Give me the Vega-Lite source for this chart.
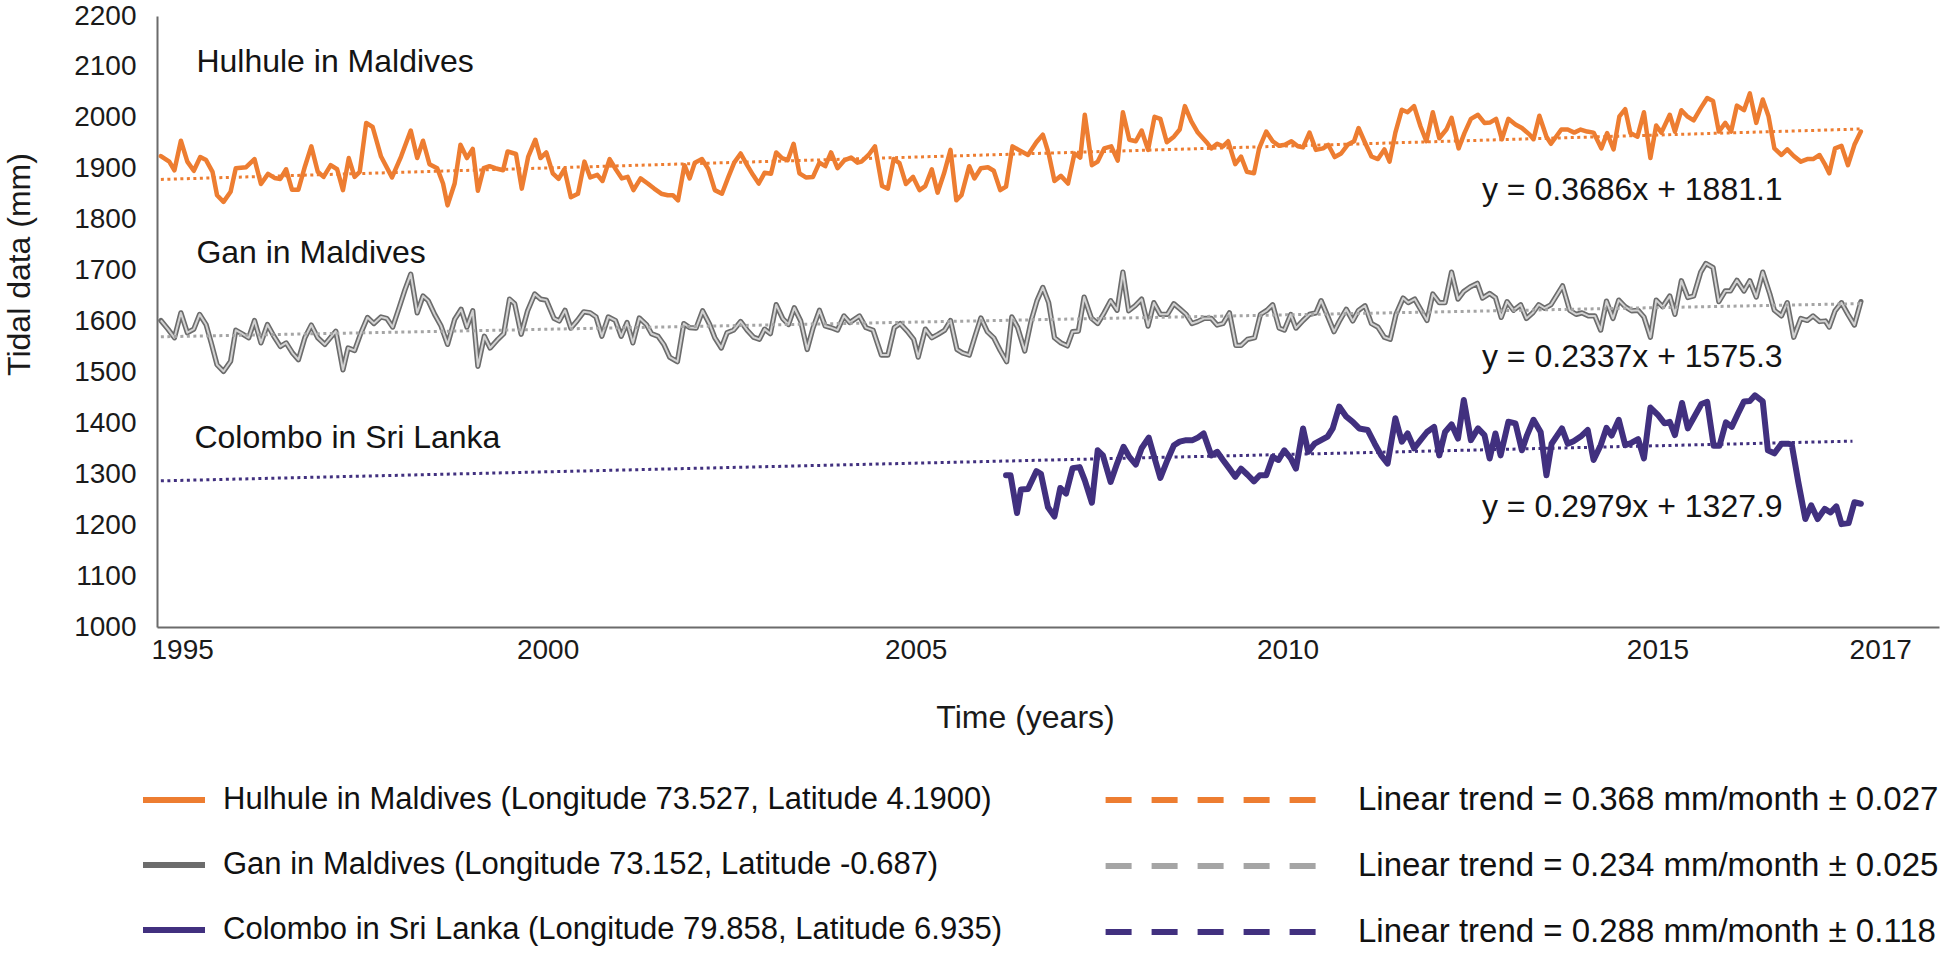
{
"$schema": "https://vega.github.io/schema/vega-lite/v6.json",
"autosize": {"type": "none"},
"padding": {"left": 157, "top": 16, "right": 7, "bottom": 330},
"width": 1782,
"height": 611,
"background": "white",
"config": {"font": "Liberation Sans", "view": {"stroke": null}},
"datasets": {
"names": [
{"s": "H", "name": "Hulhule in Maldives (Longitude 73.527, Latitude 4.1900)"},
{"s": "G", "name": "Gan in Maldives (Longitude 73.152, Latitude -0.687)"},
{"s": "C", "name": "Colombo in Sri Lanka (Longitude 79.858, Latitude 6.935)"}
],
"trend": [
{"k": "Linear trend = 0.368 mm/month ± 0.027", "t": 0.6, "v": 1879},
{"k": "Linear trend = 0.368 mm/month ± 0.027", "t": 263.7, "v": 1978},
{"k": "Linear trend = 0.234 mm/month ± 0.025", "t": 0.6, "v": 1570},
{"k": "Linear trend = 0.234 mm/month ± 0.025", "t": 263.7, "v": 1635},
{"k": "Linear trend = 0.288 mm/month ± 0.118", "t": 0.6, "v": 1287},
{"k": "Linear trend = 0.288 mm/month ± 0.118", "t": 262.6, "v": 1365}
],
"stations": [
{"label": "Hulhule in Maldives", "t": 6.1, "v": 2110},
{"label": "Gan in Maldives", "t": 6.1, "v": 1735},
{"label": "Colombo in Sri Lanka", "t": 5.8, "v": 1372}
],
"equations": [
{"label": "y = 0.3686x + 1881.1", "t": 228.5, "v": 1859},
{"label": "y = 0.2337x + 1575.3", "t": 228.5, "v": 1531},
{"label": "y = 0.2979x + 1327.9", "t": 228.5, "v": 1235}
],
"series": [
{"s":"H","t":0.6,"v":1925},{"s":"H","t":1.9,"v":1914},{"s":"H","t":2.7,"v":1897},{"s":"H","t":3.7,"v":1955},{"s":"H","t":4.7,"v":1914},{"s":"H","t":5.7,"v":1896},{"s":"H","t":6.7,"v":1923},{"s":"H","t":7.6,"v":1917},{"s":"H","t":8.6,"v":1894},{"s":"H","t":9.3,"v":1848},{"s":"H","t":10.3,"v":1835},{"s":"H","t":11.4,"v":1855},{"s":"H","t":12.2,"v":1901},{"s":"H","t":13.8,"v":1903},{"s":"H","t":15.1,"v":1919},{"s":"H","t":16.1,"v":1870},{"s":"H","t":17.2,"v":1890},{"s":"H","t":18.2,"v":1882},{"s":"H","t":19.1,"v":1880},{"s":"H","t":20.0,"v":1899},{"s":"H","t":20.9,"v":1859},{"s":"H","t":21.9,"v":1859},{"s":"H","t":22.9,"v":1904},{"s":"H","t":23.9,"v":1944},{"s":"H","t":24.9,"v":1894},{"s":"H","t":25.8,"v":1884},{"s":"H","t":26.9,"v":1907},{"s":"H","t":27.9,"v":1899},{"s":"H","t":28.8,"v":1858},{"s":"H","t":29.7,"v":1921},{"s":"H","t":30.6,"v":1884},{"s":"H","t":31.4,"v":1894},{"s":"H","t":32.4,"v":1990},{"s":"H","t":33.4,"v":1982},{"s":"H","t":34.7,"v":1924},{"s":"H","t":36.4,"v":1883},{"s":"H","t":37.8,"v":1924},{"s":"H","t":39.3,"v":1975},{"s":"H","t":40.3,"v":1921},{"s":"H","t":41.2,"v":1955},{"s":"H","t":42.2,"v":1909},{"s":"H","t":43.4,"v":1901},{"s":"H","t":44.3,"v":1871},{"s":"H","t":45.0,"v":1828},{"s":"H","t":46.1,"v":1871},{"s":"H","t":47.0,"v":1947},{"s":"H","t":48.0,"v":1921},{"s":"H","t":48.9,"v":1939},{"s":"H","t":49.7,"v":1857},{"s":"H","t":50.6,"v":1901},{"s":"H","t":51.5,"v":1905},{"s":"H","t":52.4,"v":1901},{"s":"H","t":53.6,"v":1897},
{"s":"H","t":54.3,"v":1934},{"s":"H","t":55.6,"v":1929},{"s":"H","t":56.5,"v":1861},{"s":"H","t":57.5,"v":1924},{"s":"H","t":58.6,"v":1957},{"s":"H","t":59.4,"v":1921},{"s":"H","t":60.3,"v":1932},{"s":"H","t":61.3,"v":1891},{"s":"H","t":62.2,"v":1880},{"s":"H","t":63.1,"v":1899},{"s":"H","t":64.1,"v":1844},{"s":"H","t":65.2,"v":1851},{"s":"H","t":66.2,"v":1914},{"s":"H","t":67.1,"v":1883},{"s":"H","t":68.2,"v":1888},{"s":"H","t":69.0,"v":1876},{"s":"H","t":70.1,"v":1919},{"s":"H","t":71.1,"v":1898},{"s":"H","t":72.0,"v":1881},{"s":"H","t":72.9,"v":1884},{"s":"H","t":73.8,"v":1858},{"s":"H","t":74.9,"v":1881},{"s":"H","t":76.0,"v":1871},{"s":"H","t":77.0,"v":1861},{"s":"H","t":78.1,"v":1851},{"s":"H","t":79.1,"v":1848},{"s":"H","t":79.9,"v":1848},{"s":"H","t":80.7,"v":1838},{"s":"H","t":81.7,"v":1907},{"s":"H","t":82.5,"v":1881},{"s":"H","t":83.3,"v":1912},{"s":"H","t":84.4,"v":1919},{"s":"H","t":85.4,"v":1899},{"s":"H","t":86.4,"v":1858},{"s":"H","t":87.5,"v":1851},{"s":"H","t":88.5,"v":1884},{"s":"H","t":89.4,"v":1912},{"s":"H","t":90.4,"v":1930},{"s":"H","t":91.4,"v":1907},{"s":"H","t":92.3,"v":1888},{"s":"H","t":93.2,"v":1871},{"s":"H","t":94.1,"v":1892},{"s":"H","t":95.1,"v":1890},{"s":"H","t":95.9,"v":1932},{"s":"H","t":96.8,"v":1921},{"s":"H","t":97.7,"v":1917},{"s":"H","t":98.6,"v":1949},{"s":"H","t":99.5,"v":1891},{"s":"H","t":100.5,"v":1883},{"s":"H","t":101.6,"v":1884},{"s":"H","t":102.6,"v":1912},{"s":"H","t":103.5,"v":1905},{"s":"H","t":104.4,"v":1932},{"s":"H","t":105.4,"v":1901},{"s":"H","t":106.5,"v":1917},{"s":"H","t":107.5,"v":1922},{"s":"H","t":108.5,"v":1912},
{"s":"H","t":109.1,"v":1914},{"s":"H","t":110.2,"v":1927},{"s":"H","t":111.2,"v":1944},{"s":"H","t":112.3,"v":1866},{"s":"H","t":113.2,"v":1861},{"s":"H","t":114.1,"v":1919},{"s":"H","t":115.0,"v":1911},{"s":"H","t":116.0,"v":1870},{"s":"H","t":117.1,"v":1884},{"s":"H","t":118.1,"v":1858},{"s":"H","t":119.0,"v":1866},{"s":"H","t":120.0,"v":1899},{"s":"H","t":120.9,"v":1853},{"s":"H","t":121.9,"v":1891},{"s":"H","t":122.9,"v":1937},{"s":"H","t":123.8,"v":1838},{"s":"H","t":124.6,"v":1848},{"s":"H","t":125.8,"v":1905},{"s":"H","t":126.6,"v":1881},{"s":"H","t":127.6,"v":1901},{"s":"H","t":128.7,"v":1903},{"s":"H","t":129.6,"v":1896},{"s":"H","t":130.6,"v":1858},{"s":"H","t":131.5,"v":1865},{"s":"H","t":132.5,"v":1944},{"s":"H","t":133.6,"v":1936},{"s":"H","t":134.9,"v":1927},{"s":"H","t":136.2,"v":1952},{"s":"H","t":137.2,"v":1967},{"s":"H","t":138.1,"v":1930},{"s":"H","t":139.0,"v":1876},{"s":"H","t":140.0,"v":1886},{"s":"H","t":141.1,"v":1871},{"s":"H","t":142.1,"v":1930},{"s":"H","t":143.0,"v":1922},{"s":"H","t":143.7,"v":2006},{"s":"H","t":144.8,"v":1907},{"s":"H","t":145.7,"v":1914},{"s":"H","t":146.7,"v":1940},{"s":"H","t":147.8,"v":1944},{"s":"H","t":148.8,"v":1916},{"s":"H","t":149.6,"v":2011},{"s":"H","t":150.6,"v":1957},{"s":"H","t":151.6,"v":1954},{"s":"H","t":152.5,"v":1975},{"s":"H","t":153.5,"v":1937},{"s":"H","t":154.5,"v":2002},{"s":"H","t":155.4,"v":1998},{"s":"H","t":156.4,"v":1952},{"s":"H","t":157.5,"v":1963},{"s":"H","t":158.4,"v":1977},{"s":"H","t":159.2,"v":2023},{"s":"H","t":160.2,"v":1993},{"s":"H","t":161.2,"v":1971},{"s":"H","t":162.7,"v":1950},
{"s":"H","t":163.3,"v":1940},{"s":"H","t":164.2,"v":1949},{"s":"H","t":165.1,"v":1944},{"s":"H","t":165.9,"v":1954},{"s":"H","t":167.0,"v":1909},{"s":"H","t":167.9,"v":1924},{"s":"H","t":168.8,"v":1894},{"s":"H","t":169.9,"v":1891},{"s":"H","t":170.7,"v":1940},{"s":"H","t":171.8,"v":1973},{"s":"H","t":172.8,"v":1954},{"s":"H","t":173.8,"v":1945},{"s":"H","t":174.7,"v":1947},{"s":"H","t":175.7,"v":1954},{"s":"H","t":176.7,"v":1944},{"s":"H","t":177.5,"v":1942},{"s":"H","t":178.5,"v":1971},{"s":"H","t":179.5,"v":1937},{"s":"H","t":180.6,"v":1940},{"s":"H","t":181.4,"v":1947},{"s":"H","t":182.4,"v":1923},{"s":"H","t":183.4,"v":1930},{"s":"H","t":184.4,"v":1947},{"s":"H","t":185.4,"v":1954},{"s":"H","t":186.1,"v":1980},{"s":"H","t":187.0,"v":1954},{"s":"H","t":188.1,"v":1924},{"s":"H","t":189.1,"v":1919},{"s":"H","t":190.1,"v":1938},{"s":"H","t":190.9,"v":1914},{"s":"H","t":191.8,"v":1971},{"s":"H","t":192.8,"v":2016},{"s":"H","t":193.7,"v":2011},{"s":"H","t":194.7,"v":2023},{"s":"H","t":195.7,"v":1983},{"s":"H","t":196.6,"v":1954},{"s":"H","t":197.6,"v":2011},{"s":"H","t":198.6,"v":1960},{"s":"H","t":199.7,"v":1977},{"s":"H","t":200.5,"v":2000},{"s":"H","t":201.6,"v":1940},{"s":"H","t":202.5,"v":1970},{"s":"H","t":203.5,"v":1998},{"s":"H","t":204.6,"v":2006},{"s":"H","t":205.6,"v":1990},{"s":"H","t":206.5,"v":1991},{"s":"H","t":207.4,"v":1998},{"s":"H","t":208.3,"v":1958},{"s":"H","t":209.3,"v":1998},{"s":"H","t":210.4,"v":1987},{"s":"H","t":211.4,"v":1980},{"s":"H","t":212.6,"v":1967},{"s":"H","t":213.2,"v":1958},{"s":"H","t":214.1,"v":2004},{"s":"H","t":215.2,"v":1963},{"s":"H","t":215.9,"v":1949},
{"s":"H","t":217.5,"v":1977},{"s":"H","t":218.5,"v":1977},{"s":"H","t":219.5,"v":1971},{"s":"H","t":220.5,"v":1977},{"s":"H","t":221.5,"v":1973},{"s":"H","t":222.5,"v":1971},{"s":"H","t":223.7,"v":1940},{"s":"H","t":224.6,"v":1970},{"s":"H","t":225.6,"v":1938},{"s":"H","t":226.5,"v":2003},{"s":"H","t":227.4,"v":2017},{"s":"H","t":228.2,"v":1970},{"s":"H","t":229.3,"v":1963},{"s":"H","t":230.3,"v":2011},{"s":"H","t":231.3,"v":1921},{"s":"H","t":232.2,"v":1985},{"s":"H","t":233.0,"v":1971},{"s":"H","t":234.3,"v":2006},{"s":"H","t":235.1,"v":1973},{"s":"H","t":236.1,"v":2015},{"s":"H","t":237.0,"v":2003},{"s":"H","t":238.0,"v":1995},{"s":"H","t":239.1,"v":2019},{"s":"H","t":240.1,"v":2039},{"s":"H","t":241.0,"v":2033},{"s":"H","t":241.9,"v":1973},{"s":"H","t":242.9,"v":1990},{"s":"H","t":243.8,"v":1973},{"s":"H","t":244.7,"v":2024},{"s":"H","t":245.8,"v":2015},{"s":"H","t":246.7,"v":2048},{"s":"H","t":247.7,"v":1990},{"s":"H","t":248.7,"v":2036},{"s":"H","t":249.6,"v":2003},{"s":"H","t":250.5,"v":1940},{"s":"H","t":251.6,"v":1927},{"s":"H","t":252.5,"v":1938},{"s":"H","t":253.5,"v":1925},{"s":"H","t":254.6,"v":1914},{"s":"H","t":255.6,"v":1919},{"s":"H","t":256.5,"v":1919},{"s":"H","t":257.5,"v":1927},{"s":"H","t":258.4,"v":1907},{"s":"H","t":259.0,"v":1891},{"s":"H","t":259.9,"v":1940},{"s":"H","t":260.9,"v":1945},{"s":"H","t":261.9,"v":1907},{"s":"H","t":262.9,"v":1947},{"s":"H","t":263.9,"v":1973},
{"s":"G","t":0.6,"v":1602},{"s":"G","t":1.7,"v":1585},{"s":"G","t":2.7,"v":1568},{"s":"G","t":3.7,"v":1617},{"s":"G","t":4.7,"v":1578},{"s":"G","t":5.7,"v":1585},{"s":"G","t":6.6,"v":1614},{"s":"G","t":7.6,"v":1594},{"s":"G","t":8.4,"v":1558},{"s":"G","t":9.3,"v":1515},{"s":"G","t":10.3,"v":1502},{"s":"G","t":11.4,"v":1522},{"s":"G","t":12.2,"v":1583},{"s":"G","t":13.3,"v":1575},{"s":"G","t":14.2,"v":1568},{"s":"G","t":15.1,"v":1602},{"s":"G","t":16.1,"v":1558},{"s":"G","t":17.1,"v":1594},{"s":"G","t":18.1,"v":1571},{"s":"G","t":19.1,"v":1551},{"s":"G","t":20.0,"v":1558},{"s":"G","t":21.0,"v":1538},{"s":"G","t":21.9,"v":1525},{"s":"G","t":22.9,"v":1568},{"s":"G","t":23.9,"v":1593},{"s":"G","t":24.9,"v":1568},{"s":"G","t":26.0,"v":1555},{"s":"G","t":26.9,"v":1569},{"s":"G","t":27.7,"v":1581},{"s":"G","t":28.8,"v":1505},{"s":"G","t":29.6,"v":1548},{"s":"G","t":30.6,"v":1543},{"s":"G","t":31.6,"v":1578},{"s":"G","t":32.6,"v":1608},{"s":"G","t":33.6,"v":1596},{"s":"G","t":34.7,"v":1609},{"s":"G","t":35.6,"v":1606},{"s":"G","t":36.5,"v":1589},{"s":"G","t":37.5,"v":1627},{"s":"G","t":38.4,"v":1662},{"s":"G","t":39.3,"v":1693},{"s":"G","t":40.3,"v":1617},{"s":"G","t":41.2,"v":1650},{"s":"G","t":42.0,"v":1641},{"s":"G","t":43.0,"v":1614},{"s":"G","t":44.0,"v":1591},{"s":"G","t":45.0,"v":1555},{"s":"G","t":46.1,"v":1604},{"s":"G","t":47.1,"v":1624},{"s":"G","t":48.0,"v":1589},{"s":"G","t":48.9,"v":1621},{"s":"G","t":49.7,"v":1512},{"s":"G","t":50.7,"v":1571},{"s":"G","t":51.6,"v":1548},{"s":"G","t":52.8,"v":1565},{"s":"G","t":53.7,"v":1576},
{"s":"G","t":54.6,"v":1644},{"s":"G","t":55.4,"v":1635},{"s":"G","t":56.4,"v":1575},{"s":"G","t":57.4,"v":1621},{"s":"G","t":58.5,"v":1654},{"s":"G","t":59.4,"v":1644},{"s":"G","t":60.3,"v":1642},{"s":"G","t":61.5,"v":1606},{"s":"G","t":62.3,"v":1601},{"s":"G","t":63.2,"v":1622},{"s":"G","t":64.1,"v":1587},{"s":"G","t":65.1,"v":1602},{"s":"G","t":66.1,"v":1619},{"s":"G","t":67.1,"v":1617},{"s":"G","t":68.0,"v":1609},{"s":"G","t":68.9,"v":1571},{"s":"G","t":69.9,"v":1609},{"s":"G","t":71.0,"v":1602},{"s":"G","t":71.9,"v":1571},{"s":"G","t":72.8,"v":1598},{"s":"G","t":73.7,"v":1558},{"s":"G","t":74.7,"v":1607},{"s":"G","t":75.8,"v":1594},{"s":"G","t":76.6,"v":1576},{"s":"G","t":77.6,"v":1571},{"s":"G","t":78.5,"v":1555},{"s":"G","t":79.4,"v":1530},{"s":"G","t":80.6,"v":1521},{"s":"G","t":81.6,"v":1596},{"s":"G","t":82.5,"v":1588},{"s":"G","t":83.5,"v":1587},{"s":"G","t":84.5,"v":1621},{"s":"G","t":85.6,"v":1594},{"s":"G","t":86.4,"v":1568},{"s":"G","t":87.4,"v":1548},{"s":"G","t":88.3,"v":1578},{"s":"G","t":89.3,"v":1583},{"s":"G","t":90.4,"v":1600},{"s":"G","t":91.4,"v":1583},{"s":"G","t":92.4,"v":1569},{"s":"G","t":93.3,"v":1565},{"s":"G","t":94.1,"v":1585},{"s":"G","t":95.0,"v":1576},{"s":"G","t":95.9,"v":1633},{"s":"G","t":96.9,"v":1606},{"s":"G","t":97.8,"v":1594},{"s":"G","t":98.7,"v":1627},{"s":"G","t":99.7,"v":1601},{"s":"G","t":100.7,"v":1545},{"s":"G","t":101.6,"v":1587},{"s":"G","t":102.6,"v":1622},{"s":"G","t":103.5,"v":1591},{"s":"G","t":104.4,"v":1588},{"s":"G","t":105.4,"v":1583},{"s":"G","t":106.4,"v":1611},{"s":"G","t":107.3,"v":1598},
{"s":"G","t":108.8,"v":1611},{"s":"G","t":109.8,"v":1588},{"s":"G","t":110.9,"v":1583},{"s":"G","t":112.2,"v":1534},{"s":"G","t":113.2,"v":1534},{"s":"G","t":114.2,"v":1588},{"s":"G","t":115.1,"v":1596},{"s":"G","t":116.2,"v":1581},{"s":"G","t":117.2,"v":1565},{"s":"G","t":117.9,"v":1530},{"s":"G","t":119.0,"v":1585},{"s":"G","t":120.0,"v":1568},{"s":"G","t":121.0,"v":1575},{"s":"G","t":122.0,"v":1583},{"s":"G","t":122.9,"v":1602},{"s":"G","t":123.9,"v":1545},{"s":"G","t":124.8,"v":1538},{"s":"G","t":125.8,"v":1534},{"s":"G","t":126.7,"v":1571},{"s":"G","t":127.6,"v":1607},{"s":"G","t":128.6,"v":1580},{"s":"G","t":129.6,"v":1568},{"s":"G","t":130.6,"v":1543},{"s":"G","t":131.6,"v":1521},{"s":"G","t":132.4,"v":1609},{"s":"G","t":133.3,"v":1588},{"s":"G","t":134.4,"v":1542},{"s":"G","t":135.4,"v":1602},{"s":"G","t":136.3,"v":1641},{"s":"G","t":137.2,"v":1667},{"s":"G","t":138.1,"v":1637},{"s":"G","t":139.0,"v":1568},{"s":"G","t":140.0,"v":1558},{"s":"G","t":141.0,"v":1552},{"s":"G","t":141.8,"v":1580},{"s":"G","t":142.7,"v":1581},{"s":"G","t":143.6,"v":1648},{"s":"G","t":144.7,"v":1607},{"s":"G","t":145.7,"v":1596},{"s":"G","t":146.7,"v":1617},{"s":"G","t":147.7,"v":1641},{"s":"G","t":148.7,"v":1622},{"s":"G","t":149.6,"v":1697},{"s":"G","t":150.5,"v":1621},{"s":"G","t":151.5,"v":1631},{"s":"G","t":152.5,"v":1644},{"s":"G","t":153.5,"v":1591},{"s":"G","t":154.4,"v":1637},{"s":"G","t":155.4,"v":1614},{"s":"G","t":156.5,"v":1614},{"s":"G","t":157.5,"v":1635},{"s":"G","t":158.5,"v":1624},{"s":"G","t":159.4,"v":1614},{"s":"G","t":160.3,"v":1596},{"s":"G","t":161.2,"v":1600},{"s":"G","t":162.2,"v":1606},
{"s":"G","t":163.3,"v":1606},{"s":"G","t":164.2,"v":1593},{"s":"G","t":165.1,"v":1596},{"s":"G","t":166.1,"v":1617},{"s":"G","t":167.1,"v":1553},{"s":"G","t":167.9,"v":1553},{"s":"G","t":168.9,"v":1565},{"s":"G","t":170.0,"v":1568},{"s":"G","t":170.9,"v":1614},{"s":"G","t":171.9,"v":1622},{"s":"G","t":172.8,"v":1633},{"s":"G","t":173.8,"v":1587},{"s":"G","t":174.6,"v":1583},{"s":"G","t":175.6,"v":1614},{"s":"G","t":176.4,"v":1587},{"s":"G","t":177.5,"v":1602},{"s":"G","t":178.5,"v":1614},{"s":"G","t":179.5,"v":1617},{"s":"G","t":180.3,"v":1641},{"s":"G","t":181.2,"v":1614},{"s":"G","t":182.3,"v":1580},{"s":"G","t":183.1,"v":1600},{"s":"G","t":184.2,"v":1624},{"s":"G","t":185.2,"v":1601},{"s":"G","t":186.1,"v":1622},{"s":"G","t":187.1,"v":1631},{"s":"G","t":188.1,"v":1596},{"s":"G","t":189.1,"v":1589},{"s":"G","t":190.1,"v":1569},{"s":"G","t":191.0,"v":1565},{"s":"G","t":191.9,"v":1614},{"s":"G","t":193.0,"v":1646},{"s":"G","t":193.8,"v":1637},{"s":"G","t":194.8,"v":1644},{"s":"G","t":195.7,"v":1624},{"s":"G","t":196.7,"v":1602},{"s":"G","t":197.6,"v":1654},{"s":"G","t":198.6,"v":1637},{"s":"G","t":199.5,"v":1637},{"s":"G","t":200.5,"v":1697},{"s":"G","t":201.5,"v":1644},{"s":"G","t":202.4,"v":1659},{"s":"G","t":203.4,"v":1668},{"s":"G","t":204.5,"v":1675},{"s":"G","t":205.3,"v":1646},{"s":"G","t":206.4,"v":1655},{"s":"G","t":207.3,"v":1647},{"s":"G","t":208.2,"v":1608},{"s":"G","t":209.1,"v":1639},{"s":"G","t":210.1,"v":1622},{"s":"G","t":211.2,"v":1633},{"s":"G","t":212.1,"v":1606},{"s":"G","t":213.1,"v":1617},{"s":"G","t":214.0,"v":1633},{"s":"G","t":214.9,"v":1626},{"s":"G","t":215.9,"v":1633},
{"s":"G","t":217.7,"v":1670},{"s":"G","t":218.8,"v":1622},{"s":"G","t":219.8,"v":1614},{"s":"G","t":220.7,"v":1617},{"s":"G","t":221.7,"v":1611},{"s":"G","t":222.7,"v":1611},{"s":"G","t":223.6,"v":1583},{"s":"G","t":224.5,"v":1640},{"s":"G","t":225.5,"v":1606},{"s":"G","t":226.4,"v":1642},{"s":"G","t":227.4,"v":1629},{"s":"G","t":228.4,"v":1621},{"s":"G","t":229.4,"v":1622},{"s":"G","t":230.3,"v":1609},{"s":"G","t":231.3,"v":1569},{"s":"G","t":232.2,"v":1642},{"s":"G","t":233.2,"v":1629},{"s":"G","t":234.3,"v":1650},{"s":"G","t":235.1,"v":1614},{"s":"G","t":236.1,"v":1680},{"s":"G","t":237.1,"v":1647},{"s":"G","t":238.0,"v":1650},{"s":"G","t":239.1,"v":1697},{"s":"G","t":239.9,"v":1714},{"s":"G","t":241.0,"v":1706},{"s":"G","t":241.9,"v":1639},{"s":"G","t":242.9,"v":1660},{"s":"G","t":243.7,"v":1660},{"s":"G","t":244.7,"v":1681},{"s":"G","t":245.8,"v":1660},{"s":"G","t":246.7,"v":1680},{"s":"G","t":247.7,"v":1648},{"s":"G","t":248.7,"v":1697},{"s":"G","t":249.8,"v":1654},{"s":"G","t":250.5,"v":1622},{"s":"G","t":251.6,"v":1611},{"s":"G","t":252.5,"v":1637},{"s":"G","t":253.5,"v":1569},{"s":"G","t":254.6,"v":1606},{"s":"G","t":255.6,"v":1602},{"s":"G","t":256.5,"v":1611},{"s":"G","t":257.5,"v":1600},{"s":"G","t":258.4,"v":1601},{"s":"G","t":259.0,"v":1589},{"s":"G","t":259.9,"v":1621},{"s":"G","t":260.9,"v":1637},{"s":"G","t":261.9,"v":1614},{"s":"G","t":262.9,"v":1593},{"s":"G","t":263.9,"v":1639},
{"s":"C","t":131.5,"v":1298},{"s":"C","t":132.2,"v":1298},{"s":"C","t":133.2,"v":1224},{"s":"C","t":133.8,"v":1270},{"s":"C","t":134.9,"v":1271},{"s":"C","t":136.2,"v":1306},{"s":"C","t":136.9,"v":1301},{"s":"C","t":138.0,"v":1235},{"s":"C","t":139.0,"v":1217},{"s":"C","t":139.9,"v":1273},{"s":"C","t":140.8,"v":1262},{"s":"C","t":141.8,"v":1312},{"s":"C","t":142.9,"v":1314},{"s":"C","t":143.7,"v":1288},{"s":"C","t":144.8,"v":1244},{"s":"C","t":145.7,"v":1347},{"s":"C","t":146.5,"v":1337},{"s":"C","t":147.7,"v":1285},{"s":"C","t":148.7,"v":1321},{"s":"C","t":149.7,"v":1354},{"s":"C","t":150.6,"v":1334},{"s":"C","t":151.6,"v":1319},{"s":"C","t":152.5,"v":1351},{"s":"C","t":153.6,"v":1372},{"s":"C","t":154.5,"v":1332},{"s":"C","t":155.4,"v":1293},{"s":"C","t":156.5,"v":1328},{"s":"C","t":157.5,"v":1357},{"s":"C","t":158.4,"v":1364},{"s":"C","t":159.4,"v":1367},{"s":"C","t":160.4,"v":1367},{"s":"C","t":161.2,"v":1372},{"s":"C","t":162.1,"v":1380},
{"s":"C","t":163.3,"v":1337},{"s":"C","t":164.2,"v":1344},{"s":"C","t":165.1,"v":1328},{"s":"C","t":166.1,"v":1311},{"s":"C","t":167.0,"v":1295},{"s":"C","t":167.9,"v":1311},{"s":"C","t":168.9,"v":1299},{"s":"C","t":169.9,"v":1286},{"s":"C","t":170.8,"v":1298},{"s":"C","t":171.8,"v":1298},{"s":"C","t":172.8,"v":1334},{"s":"C","t":173.7,"v":1328},{"s":"C","t":174.6,"v":1347},{"s":"C","t":175.6,"v":1331},{"s":"C","t":176.4,"v":1311},{"s":"C","t":177.5,"v":1390},{"s":"C","t":178.3,"v":1344},{"s":"C","t":179.3,"v":1360},{"s":"C","t":180.3,"v":1367},{"s":"C","t":181.3,"v":1374},{"s":"C","t":182.1,"v":1390},{"s":"C","t":183.1,"v":1433},{"s":"C","t":184.2,"v":1413},{"s":"C","t":185.2,"v":1403},{"s":"C","t":186.2,"v":1390},{"s":"C","t":187.5,"v":1387},{"s":"C","t":188.6,"v":1360},{"s":"C","t":189.6,"v":1337},{"s":"C","t":190.6,"v":1321},{"s":"C","t":191.8,"v":1410},{"s":"C","t":192.8,"v":1364},{"s":"C","t":193.7,"v":1380},{"s":"C","t":194.7,"v":1351},{"s":"C","t":195.7,"v":1367},{"s":"C","t":196.7,"v":1383},{"s":"C","t":197.8,"v":1393},{"s":"C","t":198.6,"v":1337},{"s":"C","t":199.5,"v":1383},{"s":"C","t":200.5,"v":1398},{"s":"C","t":201.5,"v":1370},{"s":"C","t":202.4,"v":1446},{"s":"C","t":203.5,"v":1367},{"s":"C","t":204.6,"v":1390},{"s":"C","t":205.6,"v":1377},{"s":"C","t":206.4,"v":1331},{"s":"C","t":207.3,"v":1380},{"s":"C","t":208.1,"v":1337},{"s":"C","t":209.3,"v":1403},{"s":"C","t":210.4,"v":1400},{"s":"C","t":211.4,"v":1347},{"s":"C","t":212.2,"v":1377},{"s":"C","t":213.2,"v":1407},{"s":"C","t":214.3,"v":1383},{"s":"C","t":215.2,"v":1298},{"s":"C","t":216.0,"v":1360},
{"s":"C","t":217.6,"v":1390},{"s":"C","t":218.5,"v":1360},{"s":"C","t":219.4,"v":1365},{"s":"C","t":220.5,"v":1374},{"s":"C","t":221.6,"v":1387},{"s":"C","t":222.5,"v":1328},{"s":"C","t":223.6,"v":1357},{"s":"C","t":224.5,"v":1391},{"s":"C","t":225.3,"v":1376},{"s":"C","t":226.4,"v":1407},{"s":"C","t":227.4,"v":1357},{"s":"C","t":228.4,"v":1362},{"s":"C","t":229.4,"v":1369},{"s":"C","t":230.3,"v":1331},{"s":"C","t":231.3,"v":1431},{"s":"C","t":232.5,"v":1416},{"s":"C","t":233.5,"v":1400},{"s":"C","t":234.3,"v":1403},{"s":"C","t":235.1,"v":1377},{"s":"C","t":236.2,"v":1440},{"s":"C","t":237.1,"v":1390},{"s":"C","t":238.1,"v":1413},{"s":"C","t":239.2,"v":1438},{"s":"C","t":240.1,"v":1442},{"s":"C","t":241.1,"v":1356},{"s":"C","t":242.0,"v":1356},{"s":"C","t":243.0,"v":1402},{"s":"C","t":243.9,"v":1393},{"s":"C","t":244.9,"v":1420},{"s":"C","t":245.8,"v":1443},{"s":"C","t":246.7,"v":1444},{"s":"C","t":247.5,"v":1455},{"s":"C","t":248.7,"v":1443},{"s":"C","t":249.5,"v":1347},{"s":"C","t":250.5,"v":1341},{"s":"C","t":251.6,"v":1360},{"s":"C","t":252.6,"v":1360},{"s":"C","t":253.2,"v":1358},{"s":"C","t":254.2,"v":1285},{"s":"C","t":255.3,"v":1212},{"s":"C","t":256.2,"v":1239},{"s":"C","t":257.2,"v":1212},{"s":"C","t":258.3,"v":1232},{"s":"C","t":259.2,"v":1225},{"s":"C","t":260.1,"v":1237},{"s":"C","t":260.9,"v":1202},{"s":"C","t":262.0,"v":1204},{"s":"C","t":262.9,"v":1245},{"s":"C","t":263.9,"v":1242}
]
},
"encoding": {
"x": {"field": "t", "type": "quantitative", "scale": {"domain": [0, 276], "nice": false, "zero": false},
"axis": {"title": "Time (years)", "values": [3.9, 60.5, 117.5, 175.1, 232.4, 266.9],
"labelExpr": "datum.value < 30 ? '1995' : datum.value < 90 ? '2000' : datum.value < 150 ? '2005' : datum.value < 200 ? '2010' : datum.value < 250 ? '2015' : '2017'",
"ticks": false, "grid": false, "domainColor": "#6b6b6b", "domainWidth": 2, "labelFontSize": 28, "labelColor": "#1a1a1a", "labelPadding": 9, "labelOverlap": false, "labelFlush": false, "labelBound": false,
"titleFontSize": 32, "titleFontWeight": "normal", "titleColor": "#1a1a1a", "titleX": 868, "titleY": 90, "titleAlign": "center", "titleBaseline": "middle"}},
"y": {"field": "v", "type": "quantitative", "scale": {"domain": [1000, 2200], "nice": false, "zero": false},
"axis": {"title": "Tidal data (mm)", "values": [1000, 1100, 1200, 1300, 1400, 1500, 1600, 1700, 1800, 1900, 2000, 2100, 2200], "format": "d",
"ticks": false, "grid": false, "domainColor": "#6b6b6b", "domainWidth": 2, "labelFontSize": 28, "labelColor": "#1a1a1a", "labelPadding": 21, "labelOverlap": false, "labelFlush": false, "labelBound": false,
"titleFontSize": 32, "titleFontWeight": "normal", "titleColor": "#1a1a1a", "titleX": -138, "titleY": 248, "titleAngle": -90, "titleAlign": "center", "titleBaseline": "middle"}}
},
"layer": [
{
"data": {"name": "series"},
"transform": [{"lookup": "s", "from": {"data": {"name": "names"}, "key": "s", "fields": ["name"]}}],
"mark": {"type": "line", "strokeJoin": "round", "strokeCap": "round"},
"encoding": {
"color": {"field": "name", "type": "nominal",
"scale": {"domain": ["Hulhule in Maldives (Longitude 73.527, Latitude 4.1900)", "Gan in Maldives (Longitude 73.152, Latitude -0.687)", "Colombo in Sri Lanka (Longitude 79.858, Latitude 6.935)"], "range": ["#ED7D31", "#6c6c6c", "#41307F"]},
"legend": {"title": null, "orient": "none", "legendX": -17, "legendY": 750, "direction": "vertical", "symbolType": "stroke", "symbolSize": 3844, "symbolStrokeWidth": 6, "rowPadding": 16, "padding": 0, "labelFontSize": 31, "labelColor": "#111111", "labelLimit": 2000, "labelOffset": 15, "labelFont": "Liberation Sans"}},
"strokeWidth": {"field": "name", "type": "nominal", "scale": {"domain": ["Hulhule in Maldives (Longitude 73.527, Latitude 4.1900)", "Gan in Maldives (Longitude 73.152, Latitude -0.687)", "Colombo in Sri Lanka (Longitude 79.858, Latitude 6.935)"], "range": [4.5, 6, 4]}, "legend": null},
"order": {"field": "t", "type": "quantitative"}
}
},
{
"data": {"name": "series"},
"transform": [{"filter": "datum.s == 'G'"}],
"mark": {"type": "line", "color": "#d2d2d2", "strokeWidth": 2, "strokeJoin": "round"},
"encoding": {
"order": {"field": "t", "type": "quantitative"}
}
},
{
"data": {"name": "trend"},
"mark": {"type": "line", "strokeDash": [3, 3.5], "strokeWidth": 3, "strokeCap": "butt"},
"encoding": {
"color": {"field": "k", "type": "nominal",
"scale": {"domain": ["Linear trend = 0.368 mm/month ± 0.027", "Linear trend = 0.234 mm/month ± 0.025", "Linear trend = 0.288 mm/month ± 0.118"], "range": ["#ED7D31", "#A5A5A5", "#41307F"]},
"legend": {"title": null, "orient": "none", "legendX": 1020, "legendY": 750, "direction": "vertical", "symbolType": "M-3.4,0H3.4", "symbolSize": 3844, "symbolStrokeWidth": 6, "symbolDash": [26, 20], "rowPadding": 15, "padding": 0, "labelFontSize": 33, "labelColor": "#111111", "labelLimit": 2000, "labelOffset": 113, "labelFont": "Liberation Sans"}}
}
},
{
"data": {"name": "stations"},
"mark": {"type": "text", "align": "left", "baseline": "middle", "fontSize": 32, "color": "#141414", "font": "Liberation Sans"},
"encoding": {"text": {"field": "label"}}
},
{
"data": {"name": "equations"},
"mark": {"type": "text", "align": "center", "baseline": "middle", "fontSize": 32, "color": "#141414", "font": "Liberation Sans"},
"encoding": {"text": {"field": "label"}}
}
],
"resolve": {"scale": {"color": "independent"}}
}
